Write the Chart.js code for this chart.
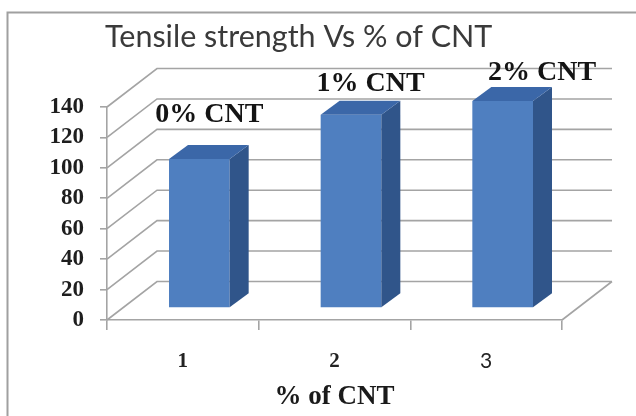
<!DOCTYPE html>
<html>
<head>
<meta charset="utf-8">
<script src="https://cdn.jsdelivr.net/npm/chart.js@4/dist/chart.umd.min.js"></script>
<style>
  html, body { margin: 0; padding: 0; background: #ffffff; }
  #wrap { width: 636px; height: 416px; }
</style>
</head>
<body>
<div id="wrap"><canvas id="c" width="636" height="416"></canvas></div>
<script>
// Tensile strength for each CNT loading
const categories = ['1', '2', '3'];
const seriesLabels = ['0% CNT', '1% CNT', '2% CNT'];
const tensileStrength = [98, 127, 136];
const yTicks = [0, 20, 40, 60, 80, 100, 120, 140];

const GRID = '#a4a4a4';
const FRONT = '#4f7fc0';
const SIDE = '#30558a';
const TOP = '#3b67a8';

// 3D box geometry (pixels): wall depth and bar depth/offset inside the floor
const WALL_DX = 50, WALL_DY = 38.5;
const BAR_OFF_DX = 16.5, BAR_OFF_DY = 12;
const BAR_DX = 19, BAR_DY = 14;
// where each category label sits relative to its bar top
const labelOffsets = [[26.5, -49], [36, -36], [56, -33]];

const frame3d = {
  id: 'frame3d',
  beforeDraw(chart) {
    const ctx = chart.ctx;
    ctx.save();
    ctx.fillStyle = '#ffffff';
    ctx.fillRect(0, 0, chart.width, chart.height);
    ctx.strokeStyle = '#a0a0a0';
    ctx.lineWidth = 2;
    ctx.strokeRect(7.5, 12.5, 700, 500);
    // title
    ctx.fillStyle = '#3a3a3a';
    ctx.font = '30.5px Lato';
    ctx.textBaseline = 'alphabetic';
    ctx.textAlign = 'left';
    ctx.fillText('Tensile strength Vs % of CNT', 105, 47);
    ctx.restore();
  },
  beforeDatasetsDraw(chart) {
    const ctx = chart.ctx;
    const ys = chart.scales.y;
    const { left, right, bottom } = chart.chartArea;
    ctx.save();
    ctx.strokeStyle = GRID;
    ctx.lineWidth = 1.6;
    ctx.beginPath();
    yTicks.forEach(v => {
      const py = ys.getPixelForValue(v);
      ctx.moveTo(left, py);
      ctx.lineTo(left + WALL_DX, py - WALL_DY);
      ctx.lineTo(right + WALL_DX, py - WALL_DY);
    });
    ctx.moveTo(right, bottom);
    ctx.lineTo(right + WALL_DX, bottom - WALL_DY);
    ctx.stroke();
    ctx.restore();
    // bars stand part-way back on the floor
    ctx.save();
    ctx.translate(BAR_OFF_DX, -BAR_OFF_DY);
  },
  afterDatasetsDraw(chart) {
    const ctx = chart.ctx;
    const meta = chart.getDatasetMeta(0);
    meta.data.forEach(el => {
      const { x, y, base, width } = el.getProps(['x', 'y', 'base', 'width'], true);
      const x1 = x - width / 2, x2 = x + width / 2;
      // side face
      ctx.fillStyle = SIDE;
      ctx.beginPath();
      ctx.moveTo(x2, y);
      ctx.lineTo(x2 + BAR_DX, y - BAR_DY);
      ctx.lineTo(x2 + BAR_DX, base - BAR_DY);
      ctx.lineTo(x2, base);
      ctx.closePath();
      ctx.fill();
      // top face
      ctx.fillStyle = TOP;
      ctx.beginPath();
      ctx.moveTo(x1, y);
      ctx.lineTo(x1 + BAR_DX, y - BAR_DY);
      ctx.lineTo(x2 + BAR_DX, y - BAR_DY);
      ctx.lineTo(x2, y);
      ctx.closePath();
      ctx.fill();
    });
    ctx.restore();
    // category labels above the bars
    ctx.save();
    ctx.fillStyle = '#141414';
    ctx.font = 'bold 28px "Liberation Serif"';
    ctx.textAlign = 'center';
    ctx.textBaseline = 'alphabetic';
    meta.data.forEach((el, i) => {
      const { x, y } = el.getProps(['x', 'y'], true);
      ctx.fillText(seriesLabels[i], x + labelOffsets[i][0], y + labelOffsets[i][1]);
    });
    ctx.restore();
  }
};

new Chart(document.getElementById('c'), {
  type: 'bar',
  data: {
    labels: categories,
    datasets: [{
      label: 'Tensile strength',
      data: tensileStrength,
      backgroundColor: FRONT,
      borderWidth: 0,
      categoryPercentage: 1,
      barPercentage: 0.4,
      clip: false
    }]
  },
  options: {
    responsive: false,
    animation: false,
    devicePixelRatio: 1,
    layout: { padding: { top: 107, right: 74, left: 0, bottom: 0 } },
    plugins: { legend: { display: false }, title: { display: false }, tooltip: { enabled: false } },
    scales: {
      y: {
        min: 0, max: 140,
        afterFit(scale) { scale.width = 107; },
        afterBuildTicks(scale) { scale.ticks = yTicks.map(v => ({ value: v })); },
        border: { display: true, color: GRID, width: 1.6 },
        grid: { drawOnChartArea: false, drawTicks: true, tickLength: 7, color: GRID, lineWidth: 1.6 },
        ticks: {
          autoSkip: false,
          padding: 16,
          color: '#1e1e1e',
          font: { family: '"Liberation Serif"', size: 23, weight: 'bold' }
        }
      },
      x: {
        afterFit(scale) { scale.height = 96; },
        border: { display: true, color: GRID, width: 1.6 },
        grid: { offset: true, drawOnChartArea: false, drawTicks: true, tickLength: 10, color: GRID, lineWidth: 1.6 },
        ticks: {
          autoSkip: false,
          maxRotation: 0,
          padding: 19,
          color: '#222222',
          font: (c) => c.index === 2
            ? { family: 'Lato', size: 21, weight: 'normal' }
            : { family: '"Liberation Serif"', size: 21, weight: 'bold' }
        },
        title: {
          display: true,
          text: '% of CNT',
          color: '#1a1a1a',
          padding: { top: 0, bottom: 3 },
          font: { family: '"Liberation Serif"', size: 27, weight: 'bold' }
        }
      }
    }
  },
  plugins: [frame3d]
});
</script>
</body>
</html>
